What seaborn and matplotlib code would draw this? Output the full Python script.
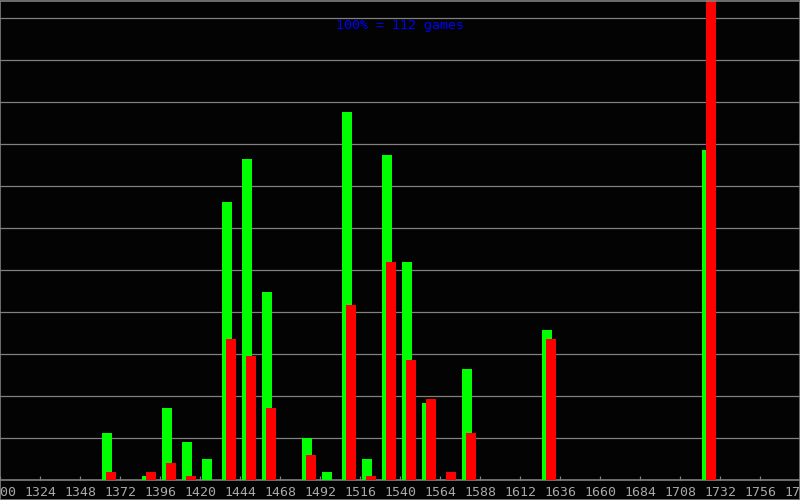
import matplotlib
matplotlib.use("Agg")
import matplotlib.pyplot as plt
import seaborn as sns
import pandas as pd
import numpy as np
from matplotlib.patches import Rectangle

# Rating bins (left edge of each 12-point bin)
bins = [1360, 1384, 1396, 1408, 1420, 1432, 1444, 1456, 1468, 1480, 1492,
        1504, 1516, 1528, 1540, 1552, 1564, 1576, 1624, 1720]
# Bar heights (in gridline units; 100% = 112 games)
green_vals = [1.12, 0.10, 1.71, 0.90, 0.50, 6.62, 7.64, 4.48, 0.0, 1.00, 0.19,
              8.76, 0.50, 7.74, 5.19, 1.83, 0.0, 2.64, 3.57, 7.86]
red_vals = [0.19, 0.19, 0.40, 0.10, 0.0, 3.36, 2.95, 1.71, 0.0, 0.60, 0.0,
            4.17, 0.10, 5.19, 2.86, 1.93, 0.19, 1.12, 3.36, 12.0]
xticks = list(range(1300, 1781, 24))
title = "100% = 112 games"

sns.set_theme(style="dark")
plt.rcParams['font.family'] = ['DejaVu Sans Mono', 'DejaVu Sans']

bg = "#030303"
fig = plt.figure(figsize=(8, 5), dpi=100, facecolor=bg)
ax = fig.add_axes([0, 20 / 500, 1, 480 / 500])
ax.set_facecolor(bg)

bins_arr = np.array(bins, dtype=float)
dfg = pd.DataFrame({"x": bins_arr + 4.2, "y": green_vals})
dfr = pd.DataFrame({"x": bins_arr + 6.6, "y": red_vals})

sns.barplot(data=dfg, x="x", y="y", native_scale=True, width=0.5,
            color="#00ff00", saturation=1, linewidth=0, ax=ax, zorder=3)
sns.barplot(data=dfr, x="x", y="y", native_scale=True, width=0.5,
            color="#ff0000", saturation=1, linewidth=0, ax=ax, zorder=4)

ax.set_xlim(1300, 1780)
ax.set_ylim(0, 480 / 42)
ax.set_yticks(np.arange(1, 12))
ax.set_yticklabels([])
ax.yaxis.grid(True, color="#808080", linewidth=0.9, zorder=0)
ax.xaxis.grid(False)
ax.set_axisbelow(True)
ax.set_xticks(xticks)
ax.set_xticklabels([str(t) for t in xticks])
ax.tick_params(axis="x", direction="in", length=3, width=0.9, color="#808080",
               labelcolor="#a8a8a8", labelsize=9.5, pad=4, bottom=True)
ax.tick_params(axis="y", left=False, length=0)
ax.set_xlabel("")
ax.set_ylabel("")
for s in ["top", "left", "right"]:
    ax.spines[s].set_visible(False)
ax.spines["bottom"].set_color("#808080")
ax.spines["bottom"].set_linewidth(1.2)

ax.text(0.5, 1 - 26 / 480, title, transform=ax.transAxes, ha="center",
        va="center", color="#0000ff", fontsize=9.5)

fig.patches.append(Rectangle((0.0006, 0.001), 0.9988, 0.998, transform=fig.transFigure,
                             fill=False, edgecolor="#808080", linewidth=1.2))

fig.savefig("out.png", dpi=100, facecolor=bg)
